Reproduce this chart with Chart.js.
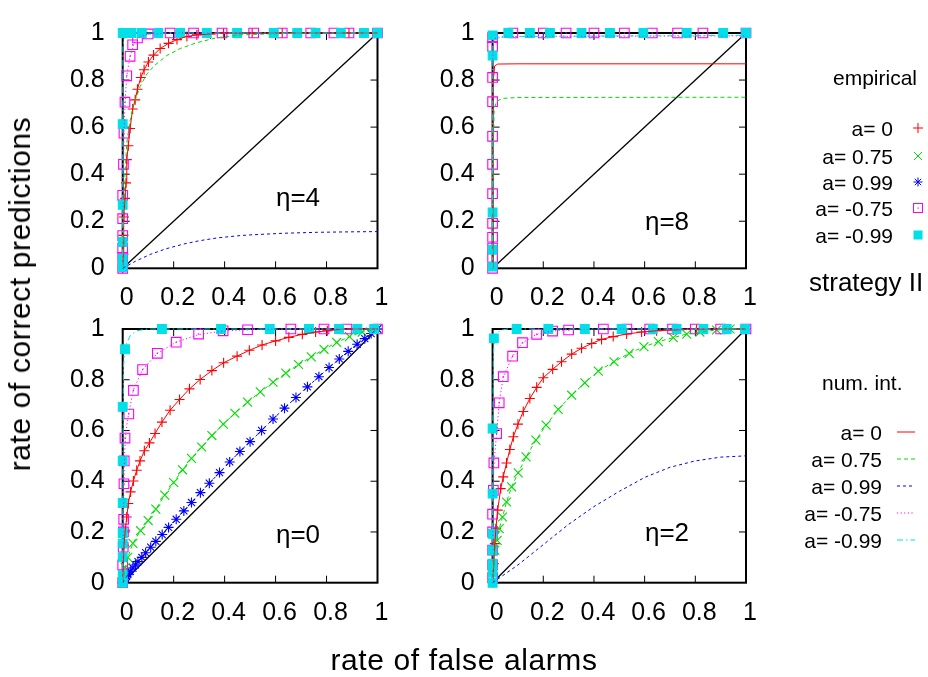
<!DOCTYPE html>
<html><head><meta charset="utf-8">
<script src="https://cdn.jsdelivr.net/npm/chart.js@4.4.1/dist/chart.umd.min.js"></script>
<style>
body{margin:0;background:#fff;width:928px;height:677px;overflow:hidden;position:relative;font-family:"Liberation Sans",Arial,sans-serif;}
canvas.panel{position:absolute;left:0;top:0;}
.t{position:absolute;white-space:nowrap;color:#000;line-height:1;}
</style></head><body>
<canvas id="c4" class="panel" width="928" height="677"></canvas>
<canvas id="c8" class="panel" width="928" height="677"></canvas>
<canvas id="c0" class="panel" width="928" height="677"></canvas>
<canvas id="c2" class="panel" width="928" height="677"></canvas>

<div class="t" style="left:20px;top:294px;font-size:30px;letter-spacing:0.6px;transform:translate(-50%,-50%) rotate(-90deg)">rate of correct predictions</div>
<div class="t" style="left:464px;top:660px;font-size:30px;letter-spacing:0.6px;transform:translate(-50%,-50%)">rate of false alarms</div>

<div class="t" style="left:298px;top:197px;font-size:26px;transform:translate(-50%,-50%)">η=4</div>
<div class="t" style="left:667px;top:221px;font-size:26px;transform:translate(-50%,-50%)">η=8</div>
<div class="t" style="left:298px;top:534px;font-size:26px;transform:translate(-50%,-50%)">η=0</div>
<div class="t" style="left:667px;top:532px;font-size:26px;transform:translate(-50%,-50%)">η=2</div>

<div id="legend"></div>

<script>
// ---------- axis ticks ----------
const tickValues = [0, 0.2, 0.4, 0.6, 0.8, 1];
const xTickLabels = ['0', '0.2', '0.4', '0.6', '0.8', '1'];
const yTickLabels = ['0', '0.2', '0.4', '0.6', '0.8', '1'];
const diagonal = [[0,0],[1,1]];

// ---------- eta = 4 (top left) ----------
const eta4_emp_a0 = [[0,0],[0.003,0.06],[0.003,0.14],[0.005,0.218],[0.009,0.297],[0.013,0.363],[0.016,0.462],[0.022,0.521],[0.029,0.594],[0.039,0.677],[0.049,0.716],[0.058,0.761],[0.071,0.811],[0.084,0.844],[0.101,0.877],[0.121,0.906],[0.147,0.934],[0.18,0.956],[0.213,0.972],[0.252,0.985],[0.291,0.992],[0.344,0.996],[0.396,0.999],[0.508,1],[0.626,1],[0.751,1],[0.888,1],[1,1]];
const eta4_emp_am075 = [[0,0],[0,0.046],[0,0.086],[0,0.139],[0,0.211],[0,0.31],[0.003,0.442],[0.005,0.574],[0.009,0.706],[0.016,0.818],[0.029,0.901],[0.039,0.95],[0.058,0.979],[0.1,0.996],[0.186,1],[0.278,1],[0.39,1],[0.514,1],[0.626,1],[0.738,1],[0.829,1],[0.888,1],[1,1]];
const eta4_emp_am099 = [[0,0.005],[0,0.04],[0,0.112],[0,0.27],[0,0.613],[0,1],[0.035,1],[0.075,1],[0.14,1],[0.226,1],[0.33,1],[0.449,1],[0.593,1],[0.685,1],[0.757,1],[0.856,1],[0.947,1],[1,1]];
const eta4_num_a0 = eta4_emp_a0;
const eta4_num_a075 = [[0,0],[0.003,0.2],[0.009,0.402],[0.016,0.534],[0.029,0.627],[0.042,0.693],[0.068,0.772],[0.094,0.825],[0.127,0.864],[0.173,0.904],[0.226,0.934],[0.291,0.959],[0.37,0.98],[0.462,0.992],[0.567,0.996],[0.7,0.999],[1,1]];
const eta4_num_a099 = [[0,0],[0.05,0.03],[0.108,0.059],[0.17,0.083],[0.239,0.103],[0.3,0.117],[0.37,0.129],[0.45,0.138],[0.5,0.142],[0.633,0.149],[0.764,0.153],[0.9,0.155],[1,0.156]];
const eta4_num_am075 = [[0,0],[0.002,0.3],[0.005,0.57],[0.009,0.7],[0.016,0.82],[0.029,0.9],[0.045,0.96],[0.07,0.985],[0.1,0.995],[0.2,1],[1,1]];
const eta4_num_am099 = [[0,0],[0.001,0.95],[0.01,0.995],[0.03,1],[1,1]];

// ---------- eta = 8 (top right) ----------
const eta8_emp_am075 = [[0,0],[0,0.046],[0,0.086],[0,0.132],[0,0.191],[0,0.317],[0,0.442],[0,0.561],[0,0.708],[0,0.811],[0,0.943],[0,0.98],[0.08,1],[0.2,1],[0.29,1],[0.4,1],[0.52,1],[0.63,1],[0.73,1],[0.83,1],[1,1]];
const eta8_emp_am099 = [[0,0.007],[0,0.079],[0,0.237],[0,0.904],[0,0.99],[0.062,1],[0.147,1],[0.226,1],[0.351,1],[0.463,1],[0.595,1],[0.766,1],[0.91,1],[1,1]];
const eta8_num_a0 = [[0,0],[0.001,0.5],[0.003,0.8],[0.008,0.86],[0.02,0.868],[0.1,0.869],[1,0.869]];
const eta8_num_a075 = [[0,0],[0.003,0.5],[0.006,0.67],[0.015,0.71],[0.04,0.722],[0.1,0.726],[1,0.727]];
const eta8_num_am075 = [[0,0],[0.001,0.9],[0.005,0.975],[0.05,0.985],[1,0.988]];
const eta8_num_am099 = [[0,0],[0.001,0.95],[0.01,0.985],[1,0.99]];

// ---------- eta = 0 (bottom left) ----------
const eta0_emp_a0 = [[0,0],[0.005,0.147],[0.01,0.207],[0.016,0.259],[0.022,0.312],[0.031,0.358],[0.042,0.401],[0.055,0.443],[0.068,0.48],[0.085,0.52],[0.105,0.551],[0.127,0.588],[0.154,0.633],[0.186,0.68],[0.223,0.722],[0.262,0.764],[0.304,0.801],[0.35,0.836],[0.396,0.867],[0.449,0.893],[0.497,0.916],[0.547,0.937],[0.6,0.953],[0.652,0.967],[0.705,0.979],[0.757,0.988],[0.803,0.993],[0.856,0.999],[0.908,1],[1,1]];
const eta0_emp_a075 = [[0,0],[0.01,0.06],[0.02,0.1],[0.04,0.155],[0.07,0.205],[0.1,0.245],[0.13,0.29],[0.165,0.345],[0.2,0.395],[0.235,0.445],[0.27,0.49],[0.31,0.535],[0.35,0.58],[0.395,0.625],[0.44,0.668],[0.49,0.712],[0.54,0.752],[0.59,0.79],[0.64,0.826],[0.69,0.86],[0.74,0.89],[0.79,0.92],[0.84,0.947],[0.89,0.97],[0.94,0.988],[1,1]];
const eta0_emp_a099 = [[0,0],[0.005,0.008],[0.01,0.016],[0.015,0.024],[0.02,0.032],[0.03,0.045],[0.04,0.058],[0.05,0.07],[0.06,0.083],[0.075,0.1],[0.09,0.118],[0.11,0.14],[0.13,0.163],[0.155,0.19],[0.18,0.218],[0.21,0.25],[0.24,0.283],[0.27,0.316],[0.305,0.355],[0.34,0.392],[0.38,0.434],[0.42,0.476],[0.46,0.517],[0.5,0.556],[0.545,0.6],[0.59,0.645],[0.635,0.688],[0.68,0.73],[0.725,0.772],[0.77,0.812],[0.81,0.848],[0.85,0.882],[0.885,0.912],[0.92,0.94],[0.95,0.962],[0.975,0.982],[1,1]];
const eta0_emp_am075 = [[0,0],[0,0.07],[0.002,0.14],[0.003,0.2],[0.004,0.25],[0.005,0.39],[0.006,0.48],[0.009,0.57],[0.024,0.665],[0.042,0.758],[0.078,0.84],[0.136,0.904],[0.21,0.948],[0.298,0.98],[0.394,0.993],[0.49,0.997],[0.66,1],[0.79,1],[0.88,1],[1,1]];
const eta0_emp_am099 = [[0,0],[0,0.03],[0,0.1],[0,0.154],[0,0.196],[0,0.314],[0,0.48],[0,0.693],[0.009,0.92],[0.154,1],[0.386,1],[0.577,1],[0.731,1],[0.849,1],[0.921,1],[0.987,1]];
const eta0_num_a0 = eta0_emp_a0;
const eta0_num_a075 = eta0_emp_a075;
const eta0_num_a099 = eta0_emp_a099;
const eta0_num_am075 = [[0,0],[0.002,0.2],[0.005,0.39],[0.008,0.52],[0.013,0.6],[0.024,0.67],[0.042,0.76],[0.078,0.84],[0.136,0.904],[0.21,0.948],[0.298,0.978],[0.394,0.992],[0.5,0.998],[0.65,1],[1,1]];
const eta0_num_am099 = [[0,0],[0.001,0.5],[0.003,0.85],[0.01,0.93],[0.03,0.975],[0.055,0.993],[0.1,1],[1,1]];

// ---------- eta = 2 (bottom right) ----------
const eta2_emp_a0 = [[0,0],[0.005,0.075],[0.009,0.154],[0.013,0.213],[0.02,0.286],[0.032,0.371],[0.042,0.417],[0.055,0.472],[0.068,0.525],[0.082,0.575],[0.1,0.625],[0.121,0.675],[0.147,0.726],[0.174,0.77],[0.2,0.808],[0.237,0.841],[0.272,0.871],[0.312,0.901],[0.351,0.924],[0.391,0.943],[0.43,0.959],[0.476,0.97],[0.529,0.98],[0.588,0.988],[0.647,0.993],[0.713,0.996],[0.805,0.999],[0.91,1],[1,1]];
const eta2_emp_a075 = [[0,0],[0.009,0.128],[0.018,0.167],[0.026,0.213],[0.039,0.259],[0.055,0.318],[0.075,0.378],[0.101,0.433],[0.132,0.496],[0.171,0.562],[0.211,0.621],[0.259,0.683],[0.312,0.739],[0.364,0.788],[0.417,0.834],[0.479,0.871],[0.539,0.904],[0.597,0.93],[0.654,0.95],[0.713,0.966],[0.766,0.98],[0.818,0.988],[0.884,0.996],[0.937,1],[1,1]];
const eta2_emp_am075 = [[0,0.02],[0,0.07],[0,0.128],[0,0.2],[0,0.27],[0.003,0.364],[0.005,0.472],[0.016,0.588],[0.026,0.709],[0.042,0.812],[0.079,0.893],[0.118,0.946],[0.174,0.979],[0.237,0.992],[0.3,0.996],[0.437,1],[0.53,1],[0.62,1],[0.71,1],[0.8,1],[0.9,1],[1,1]];
const eta2_emp_am099 = [[0,0],[0,0.04],[0,0.075],[0,0.128],[0,0.193],[0,0.351],[0,0.608],[0.005,0.963],[0.095,1],[0.22,1],[0.364,1],[0.509,1],[0.632,1],[0.726,1],[0.832,1],[0.924,1],[0.996,1]];
const eta2_num_a0 = eta2_emp_a0;
const eta2_num_a075 = eta2_emp_a075;
const eta2_num_a099 = [[0,0],[0.1,0.07],[0.2,0.15],[0.3,0.23],[0.4,0.3],[0.5,0.36],[0.6,0.415],[0.7,0.455],[0.8,0.48],[0.9,0.495],[1,0.5]];
const eta2_num_am075 = [[0,0],[0.002,0.3],[0.005,0.47],[0.016,0.588],[0.026,0.709],[0.042,0.812],[0.079,0.893],[0.118,0.946],[0.174,0.979],[0.237,0.992],[0.3,0.997],[0.45,1],[1,1]];
const eta2_num_am099 = [[0,0],[0.001,0.6],[0.003,0.9],[0.008,0.97],[0.03,0.995],[0.06,1],[1,1]];

// ---------- styles ----------
const STY = {
  a0:   {color:'#ff0000', ps:'cross',    r:5,   fill:false, dash:[]},
  a075: {color:'#00dd00', ps:'crossRot', r:6.3, fill:false, dash:[4,3]},
  a099: {color:'#0000ff', ps:'star',     r:5,   fill:false, dash:[3,3]},
  am075:{color:'#ff00ff', ps:'rect',     r:6.8, fill:false, dash:[1.2,2.4]},
  am099:{color:'#00e0e8', ps:'rect',     r:6.2, fill:true,  dash:[6,3,1.5,3]}
};
const pts = a => a.map(p => ({x:p[0], y:p[1]}));

function markerDS(key, arr){
  const s = STY[key];
  const out = [{data:pts(arr), showLine:false, pointStyle:s.ps, pointRadius:s.r, pointBorderWidth:1.1,
    borderColor:s.color, backgroundColor:s.fill ? s.color : 'rgba(0,0,0,0)', pointBackgroundColor:s.fill ? s.color : 'rgba(0,0,0,0)', clip:false}];
  if (key === 'am075') out.push({data:pts(arr), showLine:false, pointStyle:'circle', pointRadius:0.8, pointBorderWidth:0,
    borderColor:s.color, pointBackgroundColor:s.color, backgroundColor:s.color, clip:false});
  return out;
}
function lineDS(key, arr){
  const s = STY[key];
  return [{data:pts(arr), showLine:true, pointRadius:0, borderWidth:1, borderColor:s.color, borderDash:s.dash, tension:0, fill:false, clip:false}];
}

const framePlugin = {
  id:'frame',
  beforeDatasetsDraw(chart){
    const {ctx, chartArea:a, scales:{x, y}} = chart;
    ctx.save();
    ctx.strokeStyle = '#000';
    ctx.lineWidth = 1;
    ctx.beginPath();
    tickValues.slice(1, -1).forEach(v => {
      const px = x.getPixelForValue(v), py = y.getPixelForValue(v);
      ctx.moveTo(px, a.bottom); ctx.lineTo(px, a.bottom - 7);
      ctx.moveTo(px, a.top); ctx.lineTo(px, a.top + 7);
      ctx.moveTo(a.left, py); ctx.lineTo(a.left + 7, py);
      ctx.moveTo(a.right, py); ctx.lineTo(a.right - 7, py);
    });
    ctx.stroke();
    ctx.lineWidth = 2;
    ctx.strokeRect(a.left, a.top, a.right - a.left, a.bottom - a.top);
    ctx.restore();
  }
};

function makePanel(id, area, emp, num){
  let ds = [{data:pts(diagonal), showLine:true, pointRadius:0, borderWidth:1.3, borderColor:'#000', tension:0, clip:false}];
  ['a0','a075','a099','am075','am099'].forEach(k => { if (emp[k]) ds = ds.concat(markerDS(k, emp[k])); });
  ['a0','a075','a099','am075','am099'].forEach(k => { if (num[k]) ds = ds.concat(lineDS(k, num[k])); });
  ds.forEach((d, i) => d.order = ds.length - i);
  const font = {family:'"Liberation Sans", Arial, sans-serif', size:25};
  new Chart(document.getElementById(id), {
    type:'scatter',
    data:{datasets:ds},
    plugins:[framePlugin],
    options:{
      responsive:false, animation:false, devicePixelRatio:1, events:[],
      layout:{padding:{left:0, top:area.top, right:928 - area.right, bottom:0}},
      plugins:{legend:{display:false}, tooltip:{enabled:false}},
      scales:{
        x:{type:'linear', min:0, max:1, grid:{display:false, drawTicks:false}, border:{display:false},
           afterFit(s){ s.height = 677 - area.bottom; },
           afterBuildTicks(s){ s.ticks = tickValues.map(v => ({value:v})); },
           ticks:{font, color:'#000', padding:15, labelOffset:4, maxRotation:0, autoSkip:false,
                  callback:(v, i) => xTickLabels[i]}},
        y:{type:'linear', min:0, max:1, grid:{display:false, drawTicks:false}, border:{display:false},
           afterFit(s){ s.width = area.left; },
           afterBuildTicks(s){ s.ticks = tickValues.map(v => ({value:v})); },
           ticks:{font, color:'#000', padding:18, autoSkip:false,
                  callback:(v, i) => yTickLabels[i]}}
      }
    }
  });
}

makePanel('c4', {left:122.7, right:377.5, top:15.7, bottom:268.3},
  {a0:eta4_emp_a0, am075:eta4_emp_am075, am099:eta4_emp_am099},
  {a0:eta4_num_a0, a075:eta4_num_a075, a099:eta4_num_a099, am075:eta4_num_am075, am099:eta4_num_am099});
makePanel('c8', {left:492.6, right:746, top:15.7, bottom:268.3},
  {am075:eta8_emp_am075, am099:eta8_emp_am099},
  {a0:eta8_num_a0, a075:eta8_num_a075, am075:eta8_num_am075, am099:eta8_num_am099});
makePanel('c0', {left:122.7, right:377.5, top:329, bottom:582.7},
  {a0:eta0_emp_a0, a075:eta0_emp_a075, a099:eta0_emp_a099, am075:eta0_emp_am075, am099:eta0_emp_am099},
  {a0:eta0_num_a0, a075:eta0_num_a075, a099:eta0_num_a099, am075:eta0_num_am075, am099:eta0_num_am099});
makePanel('c2', {left:492.6, right:746, top:329, bottom:582.7},
  {a0:eta2_emp_a0, a075:eta2_emp_a075, am075:eta2_emp_am075, am099:eta2_emp_am099},
  {a0:eta2_num_a0, a075:eta2_num_a075, a099:eta2_num_a099, am075:eta2_num_am075, am099:eta2_num_am099});

// ---------- legend ----------
const legendLabels = ['a= 0', 'a= 0.75', 'a= 0.99', 'a= -0.75', 'a= -0.99'];
const legendKeys = ['a0', 'a075', 'a099', 'am075', 'am099'];
const empRows = [128, 156, 182, 208, 235];
const numRows = [432, 459, 486, 513, 540];
const L = document.getElementById('legend');
function addText(txt, style){ const d = document.createElement('div'); d.className = 't'; d.textContent = txt; d.setAttribute('style', style); L.appendChild(d); }
addText('empirical', 'left:875px;top:77px;font-size:21px;transform:translate(-50%,-50%)');
addText('strategy II', 'left:809px;top:282px;font-size:26px;transform:translateY(-50%)');
addText('num. int.', 'left:822px;top:382px;font-size:21px;transform:translateY(-50%)');
function glyph(k){
  const c = STY[k].color;
  if (k === 'a0') return `<path d="M1 6H11M6 1V11" stroke="${c}" stroke-width="1"/>`;
  if (k === 'a075') return `<path d="M2 2L10 10M10 2L2 10" stroke="${c}" stroke-width="1"/>`;
  if (k === 'a099') return `<path d="M1.5 6H10.5M6 1.5V10.5M2.8 2.8L9.2 9.2M9.2 2.8L2.8 9.2" stroke="${c}" stroke-width="1"/>`;
  if (k === 'am075') return `<rect x="1.5" y="1.5" width="9" height="9" fill="none" stroke="${c}" stroke-width="1"/><rect x="5.5" y="5.5" width="1.2" height="1.2" fill="${c}"/>`;
  return `<rect x="1.5" y="1.5" width="9" height="9" fill="${c}"/>`;
}
legendKeys.forEach((k, i) => {
  addText(legendLabels[i], `right:35px;top:${empRows[i]}px;font-size:21px;transform:translateY(-50%)`);
  const s = document.createElementNS('http://www.w3.org/2000/svg', 'svg');
  s.setAttribute('width', 12); s.setAttribute('height', 12);
  s.setAttribute('style', `position:absolute;left:912px;top:${empRows[i] - 6}px`);
  s.innerHTML = glyph(k); L.appendChild(s);

  addText(legendLabels[i], `right:46px;top:${numRows[i]}px;font-size:21px;transform:translateY(-50%)`);
  const s2 = document.createElementNS('http://www.w3.org/2000/svg', 'svg');
  s2.setAttribute('width', 20); s2.setAttribute('height', 4);
  s2.setAttribute('style', `position:absolute;left:897px;top:${numRows[i] - 2}px`);
  s2.innerHTML = `<line x1="0" y1="2" x2="18" y2="2" stroke="${STY[k].color}" stroke-width="1" stroke-dasharray="${STY[k].dash.join(' ') || 'none'}"/>`;
  L.appendChild(s2);
});
</script>
</body></html>
